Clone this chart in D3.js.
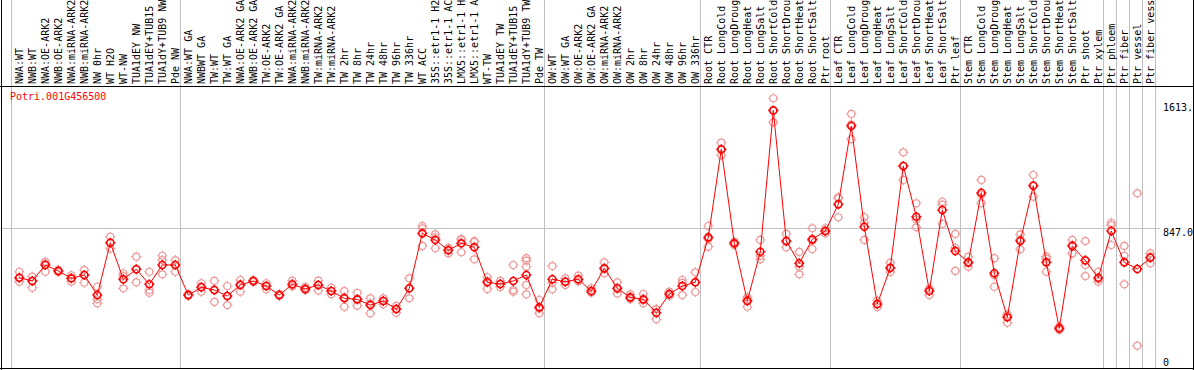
<!DOCTYPE html>
<html><head><meta charset="utf-8">
<script src="https://cdn.jsdelivr.net/npm/d3@7"></script>
<style>
body{margin:0;background:#fff}
svg{display:block}
text{font-family:"DejaVu Sans Mono",monospace;font-size:10px}
</style>
</head><body>
<svg id="c" width="1194" height="370"></svg>
<script>
const geneId = "Potri.001G456500";
const samples = [
"NWA:WT","NWB:WT","NWA:OE-ARK2","NWB:OE-ARK2","NWA:miRNA-ARK2","NWB:miRNA-ARK2","NW 0hr","WT H2O","WT-NW","TUA1dEY NW","TUA1dEY+TUB15 NW","TUA1dY+TUB9 NW","Pde NW",
"NWA:WT GA","NWBWT GA","TW:WT","TW:WT GA","NWA:OE-ARK2 GA","NWB:OE-ARK2 GA","TW:OE-ARK2","TW:OE-ARK2 GA","NWA:miRNA-ARK2 GA","NWB:miRNA-ARK2 GA","TW:miRNA-ARK2","TW:miRNA-ARK2 GA","TW 2hr","TW 8hr","TW 24hr","TW 48hr","TW 96hr","TW 336hr","WT ACC","35S::etr1-1 H2O","35S::etr1-1 ACC","LMX5::etr1-1 H2O","LMX5::etr1-1 ACC","WT-TW","TUA1dEY TW","TUA1dEY+TUB15 TW","TUA1dY+TUB9 TW","Pde TW",
"OW:WT","OW:WT GA","OW:OE-ARK2","OW:OE-ARK2 GA","OW:miRNA-ARK2","OW:miRNA-ARK2 GA","OW 2hr","OW 8hr","OW 24hr","OW 48hr","OW 96hr","OW 336hr",
"Root CTR","Root LongCold","Root LongDrought","Root LongHeat","Root LongSalt","Root ShortCold","Root ShortDrought","Root ShortHeat","Root ShortSalt","Ptr root",
"Leaf CTR","Leaf LongCold","Leaf LongDrought","Leaf LongHeat","Leaf LongSalt","Leaf ShortCold","Leaf ShortDrought","Leaf ShortHeat","Leaf ShortSalt","Ptr leaf",
"Stem CTR","Stem LongCold","Stem LongDrought","Stem LongHeat","Stem LongSalt","Stem ShortCold","Stem ShortDrought","Stem ShortHeat","Stem ShortSalt","Ptr shoot","Ptr xylem",
"Ptr phloem","Ptr fiber","Ptr vessel","Ptr fiber vessel"
];
// first sample of each study
const groupStarts = [0,13,41,53,63,73,84,85,86,87];
const means = [
523,502,606,567,519,541,410,751,513,578,480,606,606,
410,461,443,404,476,502,469,410,480,450,476,436,389,382,345,371,319,454,812,769,702,747,721,493,482,502,541,330,
513,497,513,436,584,454,395,382,295,417,469,493,
786,1360,747,371,692,1613,762,617,773,827,
1001,1511,855,352,588,1251,920,436,964,697,
623,1077,552,265,762,1122,623,193,730,636,523,
827,623,580,653
];
const reps = [
[562,497,523],[530,458,502],[627,562,617],[560,567,575],[539,497,519],[573,491,541],[464,382,356],[790,751,712],[552,454,534],[660,493,578],[562,443,425],[666,638,545],[638,562,606],
[404,410,416],[487,432,463],[502,365,443],[469,345,404],[508,432,482],[495,502,508],[487,448,469],[404,410,416],[504,469,469],[464,443,443],[504,439,476],[458,415,436],[436,334,395],[425,341,382],[389,291,356],[389,350,371],[339,295,319],[519,389,454],[860,845,730],[806,715,786],[682,704,717],[775,689,769],[762,643,756],[526,450,502],[502,463,482],[606,443,432],[650,634,595,476,415],[378,291,321],
[599,448,491],[519,476,497],[536,502,502],[454,430,425],[623,552,580],[493,421,450],[415,386,384],[417,356,376],[317,252,317],[432,404,417],[508,410,489],[558,430,493],
[860,725,775],[1403,1355,1321],[758,747,736],[395,334,382],[769,643,666],[1692,1535,1612],[808,721,758],[692,545,595],[845,710,764],[845,827,812],
[1047,917,1040],[1590,1425,1522],[917,769,881],[373,332,350],[621,560,584],[1340,1160,1251],[1008,851,903],[410,450,449],[1018,873,999],[808,567,717],
[660,595,617],[1160,1008,1064],[650,464,539],[230,280,282],[806,708,773],[1192,1051,1125],[660,562,647],[204,182,193],[769,682,738],[762,606,534],[562,497,513],
[881,866,736],[730,666,480],[1073,80],[682,617,660]
];
const yTicks = [0, 847.0, 1613];
const yTickLabels = ["0", "847.0", "1613."];

const svg = d3.select("#c");
const x = d3.scaleBand().domain(d3.range(samples.length)).range([11, 1155]);
const cx = i => x(i) + 8.3;
const y = d3.scaleLinear().domain([0, 1613]).range([358, 110.4]);

// gridline at middle tick
svg.append("line").attr("x1", 1).attr("x2", 1160)
  .attr("y1", Math.round(y(847)) + 0.5).attr("y2", Math.round(y(847)) + 0.5)
  .attr("stroke", "#c0c0c0");

// study separators
const seps = groupStarts.map(i => x(i)).concat([x(samples.length - 1) + x.bandwidth()]);
svg.selectAll("line.sep").data(seps).join("line").attr("class", "sep")
  .attr("x1", d => Math.round(d) + 0.5).attr("x2", d => Math.round(d) + 0.5)
  .attr("y1", 0).attr("y2", 369).attr("stroke", "#c0c0c0");

// frame
const frame = svg.append("g").attr("stroke", "#000").attr("stroke-width", 1);
frame.append("line").attr("x1", 1.5).attr("x2", 1.5).attr("y1", 0).attr("y2", 370);
frame.append("line").attr("x1", 1193.5).attr("x2", 1193.5).attr("y1", 0).attr("y2", 370);
frame.append("line").attr("x1", 0).attr("x2", 1194).attr("y1", 86.5).attr("y2", 86.5);
frame.append("line").attr("x1", 0).attr("x2", 1194).attr("y1", 368.5).attr("y2", 368.5);

// sample labels
svg.selectAll("text.lab").data(samples).join("text").attr("class", "lab")
  .attr("transform", (d, i) => `translate(${cx(i) + 3.5},84) rotate(-90)`)
  .attr("fill", "#000").text(d => d);

// title
svg.append("text").attr("x", 10).attr("y", 100).attr("fill", "#ff0000").text(geneId);

// y labels
svg.selectAll("text.yl").data(yTicks).join("text").attr("class", "yl")
  .attr("x", 1163)
  .attr("y", (d, i) => i === yTicks.length - 1 ? y(d) + 0.5 : y(d) + 8)
  .attr("fill", "#000").text((d, i) => yTickLabels[i]);

// marker shape: ring with small ticks
const r = 3.5;
const markerPath = `M${-r},0A${r},${r} 0 1,0 ${r},0A${r},${r} 0 1,0 ${-r},0` +
  `M0,${-r-1.5}V${-r}M0,${r}V${r+1.5}M${-r-1.5},0H${-r}M${r},0H${r+1.5}`;

// replicates
const repPts = [];
reps.forEach((arr, i) => arr.forEach(v => repPts.push({i, v})));
svg.append("g").selectAll("path").data(repPts).join("path")
  .attr("d", markerPath)
  .attr("transform", d => `translate(${cx(d.i)},${y(d.v)})`)
  .attr("fill", "none").attr("stroke", "#ee9999").attr("stroke-width", 1.2);

// mean line
svg.append("path").datum(means)
  .attr("d", d3.line().x((d, i) => cx(i)).y(d => y(d)))
  .attr("fill", "none").attr("stroke", "#ff0000").attr("stroke-width", 1);

// mean markers
svg.append("g").selectAll("path").data(means).join("path")
  .attr("d", markerPath)
  .attr("transform", (d, i) => `translate(${cx(i)},${y(d)})`)
  .attr("fill", "none").attr("stroke", "#ff0000").attr("stroke-width", 1.6);
</script>
</body></html>
